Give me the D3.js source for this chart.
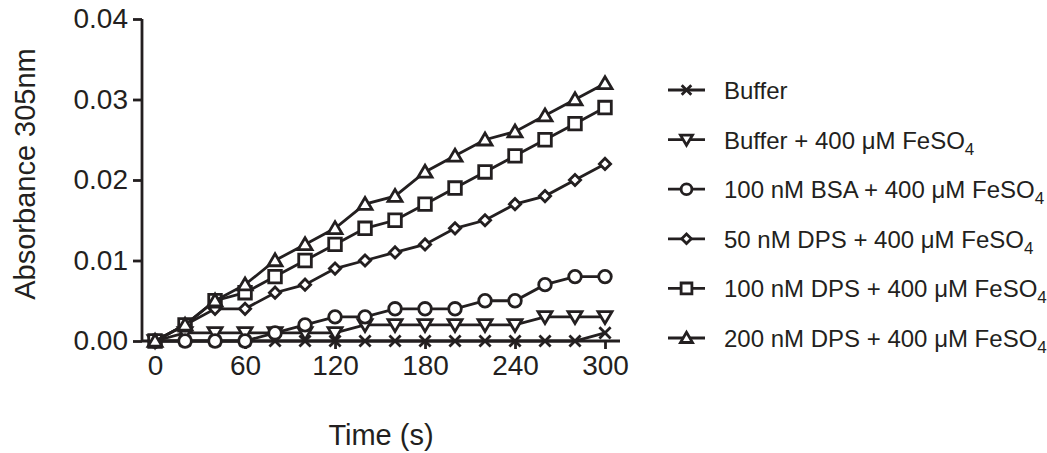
<!DOCTYPE html>
<html>
<head>
<meta charset="utf-8">
<script src="https://cdn.jsdelivr.net/npm/d3@7"></script>
<style>
  body { margin: 0; background: #fff; }
  svg text { font-family: "Liberation Sans", Arial, sans-serif; fill: #231f20; }
</style>
</head>
<body>
<div id="chart"></div>
<script>
const width = 1047;
const height = 453;

const times = [0, 20, 40, 60, 80, 100, 120, 140, 160, 180, 200, 220, 240, 260, 280, 300];
const xTicks = [0, 60, 120, 180, 240, 300];
const yTicks = [0, 0.01, 0.02, 0.03, 0.04];

const seriesNames = [
    "Buffer",
    "Buffer + 400 μM FeSO",
    "100 nM BSA + 400 μM FeSO",
    "50 nM DPS + 400 μM FeSO",
    "100 nM DPS + 400 μM FeSO",
    "200 nM DPS + 400 μM FeSO"
];
const seriesMarkers = ["times", "triangleDown", "circle", "diamond", "square", "triangle"];

const buffer      = [0, 0, 0, 0, 0, 0, 0, 0, 0, 0, 0, 0, 0, 0, 0, 0.001];
const bufferFe    = [0, 0.001, 0.001, 0.001, 0.001, 0.001, 0.001, 0.002, 0.002, 0.002, 0.002, 0.002, 0.002, 0.003, 0.003, 0.003];
const bsaFe       = [0, 0, 0, 0, 0.001, 0.002, 0.003, 0.003, 0.004, 0.004, 0.004, 0.005, 0.005, 0.007, 0.008, 0.008];
const dps50Fe     = [0, 0.002, 0.004, 0.004, 0.006, 0.007, 0.009, 0.010, 0.011, 0.012, 0.014, 0.015, 0.017, 0.018, 0.020, 0.022];
const dps100Fe    = [0, 0.002, 0.005, 0.006, 0.008, 0.010, 0.012, 0.014, 0.015, 0.017, 0.019, 0.021, 0.023, 0.025, 0.027, 0.029];
const dps200Fe    = [0, 0.002, 0.005, 0.007, 0.010, 0.012, 0.014, 0.017, 0.018, 0.021, 0.023, 0.025, 0.026, 0.028, 0.030, 0.032];
const seriesValues = [buffer, bufferFe, bsaFe, dps50Fe, dps100Fe, dps200Fe];

const ink = "#231f20";
const sw = 2.8;

const svg = d3.select("#chart").append("svg")
    .attr("width", width)
    .attr("height", height);

const x = d3.scaleLinear().domain([-8.7, 310]).range([142, 620]);
const y = d3.scaleLinear().domain([0, 0.04]).range([341, 19]);

// marker outlines, centred on 0,0
function markerPath(type, s) {
    const r = s / 2;
    switch (type) {
        case "times":
            return `M${-r * 0.8},${-r * 0.8}L${r * 0.8},${r * 0.8}M${-r * 0.8},${r * 0.8}L${r * 0.8},${-r * 0.8}`;
        case "triangleDown":
            return `M${-r},${-r * 0.75}L${r},${-r * 0.75}L0,${r * 0.95}Z`;
        case "triangle":
            return `M${-r},${r * 0.75}L${r},${r * 0.75}L0,${-r * 0.95}Z`;
        case "square":
            return `M${-r * 0.9},${-r * 0.9}H${r * 0.9}V${r * 0.9}H${-r * 0.9}Z`;
        case "diamond":
            return `M0,${-r * 0.8}L${r * 0.8},0L0,${r * 0.8}L${-r * 0.8},0Z`;
        case "circle":
            return `M${r * 0.9},0A${r * 0.9},${r * 0.9} 0 1,1 ${-r * 0.9},0A${r * 0.9},${r * 0.9} 0 1,1 ${r * 0.9},0Z`;
    }
}

// axes
const yAxis = svg.append("g")
    .attr("transform", `translate(142,0)`)
    .call(d3.axisLeft(y).tickValues(yTicks).tickFormat(d3.format(".2f")).tickSize(9).tickPadding(5));
const xAxis = svg.append("g")
    .attr("transform", `translate(0,341)`)
    .call(d3.axisBottom(x).tickValues(xTicks).tickSize(8).tickPadding(6));

[yAxis, xAxis].forEach(ax => {
    ax.select(".domain").attr("stroke", ink).attr("stroke-width", sw);
    ax.selectAll(".tick line").attr("stroke", ink).attr("stroke-width", sw);
    ax.selectAll(".tick text").style("font-size", "28px").attr("fill", ink);
});
xAxis.select(".domain").attr("d", `M${x.range()[0]},0H${x.range()[1]}`);
yAxis.select(".domain").attr("d", `M0,${y.range()[0]}V${y.range()[1]}`);
xAxis.selectAll(".tick text").attr("dy", "0.71em").attr("y", 14);

svg.append("text")
    .attr("transform", "translate(35,174) rotate(-90)")
    .attr("text-anchor", "middle")
    .style("font-size", "29px")
    .text("Absorbance 305nm");

svg.append("text")
    .attr("x", 381)
    .attr("y", 445)
    .attr("text-anchor", "middle")
    .style("font-size", "29px")
    .text("Time (s)");

// series
const line = d3.line()
    .x((d, i) => x(times[i]))
    .y(d => y(d));

seriesValues.forEach((vals, si) => {
    const g = svg.append("g");
    g.append("path")
        .datum(vals)
        .attr("d", line)
        .attr("fill", "none")
        .attr("stroke", ink)
        .attr("stroke-width", sw);
    g.selectAll("path.marker")
        .data(vals)
        .join("path")
        .attr("class", "marker")
        .attr("transform", (d, i) => `translate(${x(times[i])},${y(d)})`)
        .attr("d", markerPath(seriesMarkers[si], 14))
        .attr("fill", seriesMarkers[si] === "times" ? "none" : "#fff")
        .attr("stroke", ink)
        .attr("stroke-width", sw);
});

// legend
const legend = svg.append("g");
seriesNames.forEach((name, i) => {
    const row = legend.append("g").attr("transform", `translate(0,${90 + i * 49.6})`);
    row.append("line")
        .attr("x1", 668).attr("x2", 705)
        .attr("stroke", ink).attr("stroke-width", sw);
    row.append("path")
        .attr("transform", "translate(686.5,0)")
        .attr("d", markerPath(seriesMarkers[i], 12))
        .attr("fill", seriesMarkers[i] === "times" ? "none" : "#fff")
        .attr("stroke", ink)
        .attr("stroke-width", sw);
    const t = row.append("text")
        .attr("x", 724)
        .attr("y", 9)
        .style("font-size", "24px")
        .text(name);
    if (i > 0) {
        t.append("tspan")
            .attr("dy", 6)
            .style("font-size", "17px")
            .text("4");
    }
});
</script>
</body>
</html>
